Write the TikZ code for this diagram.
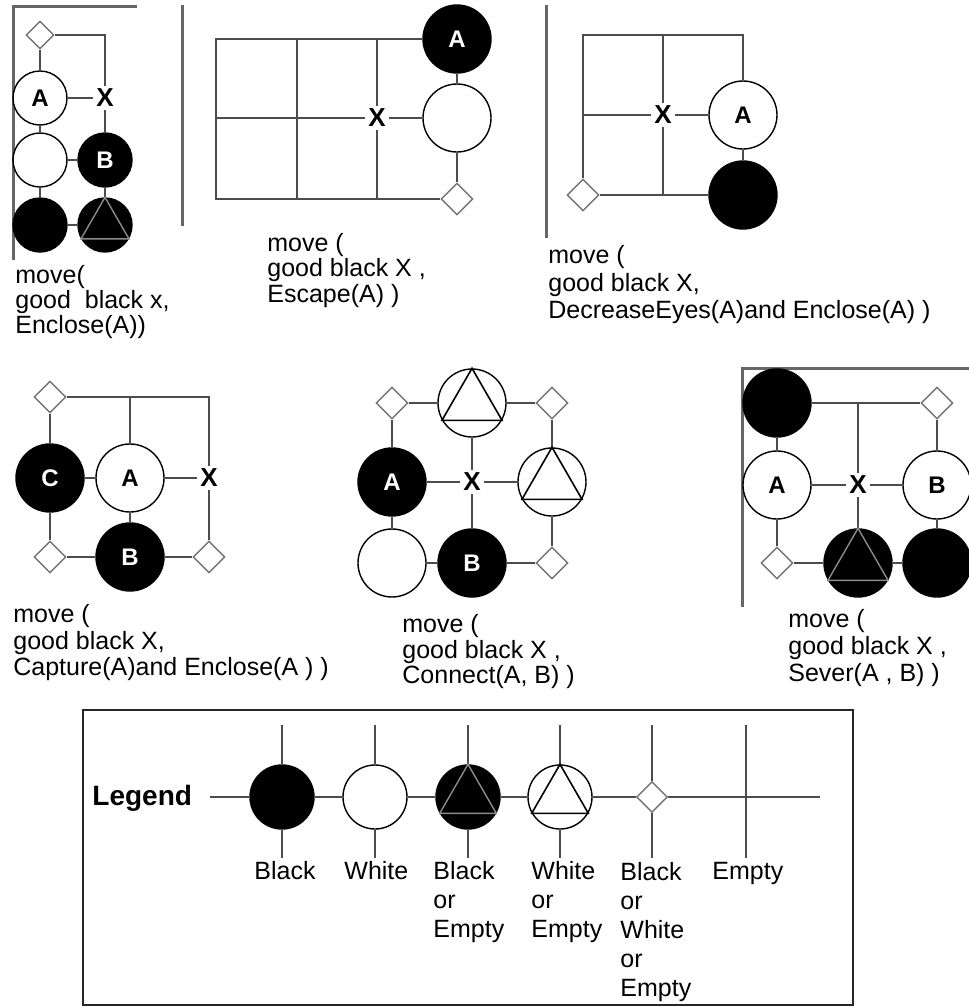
\documentclass[tikz,border=0pt]{standalone}
\usepackage{fontspec}
\setmainfont{Liberation Sans}
\usetikzlibrary{shapes.geometric}
\tikzset{
  gline/.style={draw=black!70, line width=1pt},
  panelline/.style={draw=black!60, line width=1.5pt},
  stone/.style={circle, draw=black, line width=0.7pt, inner sep=0pt, minimum size=34pt, font=\bfseries\fontsize{12}{12}\selectfont},
  blk/.style={stone, fill=black, text=white},
  wht/.style={stone, fill=white},
  p1/.style={minimum size=27pt},
  leg/.style={minimum size=32pt},
  gem/.style={diamond, draw=black!55, fill=white, line width=0.7pt, inner sep=0pt, minimum size=16pt},
  mv/.style={inner sep=1.5pt, font=\bfseries\fontsize{13}{13}\selectfont},
  capt/.style={anchor=north west, align=left, inner sep=0pt, font=\fontsize{12.5}{#1}\selectfont},
  capt/.default=13,
}
\begin{document}
\begin{tikzpicture}[x=0.5pt, y=-0.5pt]
  \useasboundingbox (0,0) rectangle (969,1007);
  % separators
  \draw[panelline] (13,260) -- (13,6) -- (137,6);
  \draw[panelline] (182,5) -- (182,226);
  \draw[panelline] (546,5) -- (546,238);
  \draw[panelline] (742,607) -- (742,368) -- (969,368);

  % Enclose
  \node[gem, minimum size=14pt] (d1) at (40,35) {};
  \coordinate (c1) at (105,35);
  \node[wht, p1] (a1) at (40,98) {A};
  \node[mv] (x1) at (105,98) {X};
  \node[wht, p1] (w1) at (40,160) {};
  \node[blk, p1] (b1) at (105,160) {B};
  \node[blk, p1] (k1) at (40,225) {};
  \node[blk, p1] (t1) at (105,225) {};
  \draw[gline] (d1) -- (c1) -- (x1);
  \draw[gline] (d1) -- (a1) -- (w1) -- (k1) -- (t1) -- (b1) -- (x1) -- (a1);
  \draw[gline] (w1) -- (b1);
  \node[capt=12.5] (m1) at (15,265) {move(\\good\ \ black x,\\Enclose(A))};

  % Escape
  \coordinate (p2a) at (216,39); \coordinate (p2b) at (216,199);
  \coordinate (p2c) at (297,39); \coordinate (p2d) at (297,199);
  \coordinate (p2e) at (377,39); \coordinate (p2f) at (377,199);
  \coordinate (p2g) at (216,118);
  \node[blk] (a2) at (457,39) {A};
  \node[wht] (w2) at (457,118) {};
  \node[gem] (d2) at (457,199) {};
  \node[mv] (x2) at (377,118) {X};
  \draw[gline] (a2) -- (p2a) -- (p2b) -- (d2);
  \draw[gline] (p2c) -- (p2d);
  \draw[gline] (p2e) -- (x2) -- (p2f);
  \draw[gline] (p2g) -- (x2) -- (w2);
  \draw[gline] (a2) -- (w2) -- (d2);
  \node[capt=10.5] (m2) at (267,233) {move (\\good black X ,\\Escape(A) )};

  % DecreaseEyes
  \coordinate (p3a) at (583,35); \coordinate (p3b) at (743,35);
  \coordinate (p3c) at (663,35); \coordinate (p3d) at (663,195);
  \coordinate (p3e) at (583,115);
  \node[wht] (a3) at (743,115) {A};
  \node[blk] (k3) at (743,195) {};
  \node[gem] (d3) at (583,195) {};
  \node[mv] (x3) at (663,115) {X};
  \draw[gline] (d3) -- (p3a) -- (p3b) -- (a3) -- (k3);
  \draw[gline] (p3c) -- (x3) -- (p3d);
  \draw[gline] (p3e) -- (x3) -- (a3);
  \draw[gline] (d3) -- (k3);
  \node[capt=13.75] (m3) at (548,245) {move (\\good black X,\\DecreaseEyes(A)and Enclose(A) )};

  % Capture
  \node[gem] (d4a) at (50,397) {};
  \node[gem] (d4b) at (50,557) {};
  \node[gem] (d4c) at (209,557) {};
  \coordinate (p4a) at (209,397); \coordinate (p4b) at (130,397);
  \node[blk] (c4) at (50,478) {C};
  \node[wht] (a4) at (130,478) {A};
  \node[mv] (x4) at (209,478) {X};
  \node[blk] (b4) at (130,557) {B};
  \draw[gline] (d4a) -- (p4a) -- (x4) -- (d4c) -- (b4) -- (d4b) -- (c4) -- (d4a);
  \draw[gline] (p4b) -- (a4) -- (b4);
  \draw[gline] (c4) -- (a4) -- (x4);
  \node[capt=13.25] (m4) at (13,604) {move (\\good black X,\\Capture(A)and Enclose(A ) )};

  % Connect
  \node[gem] (d5a) at (392,403) {};
  \node[gem] (d5b) at (552,403) {};
  \node[gem] (d5c) at (552,563) {};
  \node[wht] (t5a) at (472,403) {};
  \node[wht] (t5b) at (552,482) {};
  \node[blk] (a5) at (392,482) {A};
  \node[mv] (x5) at (472,482) {X};
  \node[wht] (w5) at (392,563) {};
  \node[blk] (b5) at (472,563) {B};
  \draw[gline] (d5a) -- (t5a) -- (d5b) -- (t5b) -- (d5c) -- (b5) -- (w5) -- (a5) -- (d5a);
  \draw[gline] (t5a) -- (x5) -- (b5);
  \draw[gline] (a5) -- (x5) -- (t5b);
  \node[capt=12.75] (m5) at (402,614) {move (\\good black X ,\\Connect(A, B) )};

  % Sever
  \node[blk] (k6a) at (777,403) {};
  \coordinate (p6a) at (858,403);
  \node[gem] (d6a) at (937,403) {};
  \node[wht] (a6) at (777,485) {A};
  \node[mv] (x6) at (858,485) {X};
  \node[wht] (b6) at (937,485) {B};
  \node[gem] (d6b) at (777,563) {};
  \node[blk] (t6) at (858,563) {};
  \node[blk] (k6b) at (937,563) {};
  \draw[gline] (k6a) -- (d6a) -- (b6) -- (k6b) -- (t6) -- (d6b) -- (a6) -- (k6a);
  \draw[gline] (p6a) -- (x6) -- (t6);
  \draw[gline] (a6) -- (x6) -- (b6);
  \node[capt=13.5] (m6) at (788,609) {move (\\good black X ,\\Sever(A , B) )};

  % legend
  \draw[line width=1pt, draw=black!85] (83,710) rectangle (853,1005);
  \node[font=\bfseries\fontsize{14}{14}\selectfont, anchor=base west, inner sep=0pt] (lg) at (92,805) {Legend};
  \coordinate (l0) at (210,797); \coordinate (l1) at (820,797);
  \coordinate (le) at (746,797);
  \node[blk, leg] (lk) at (282,797) {};
  \node[wht, leg] (lw) at (375,797) {};
  \node[blk, leg] (lkt) at (468,797) {};
  \node[wht, leg] (lwt) at (560,797) {};
  \node[gem, minimum size=15.5pt] (ld) at (652,797) {};
  \draw[gline] (l0) -- (lk) -- (lw) -- (lkt) -- (lwt) -- (ld) -- (le) -- (l1);
  \foreach \n/\x in {lk/282, lw/375, lkt/468, lwt/560, ld/652, le/746} {
    \coordinate (t\n) at (\x,725); \coordinate (b\n) at (\x,858);
    \draw[gline] (t\n) -- (\n) -- (b\n);
  }
  \node[capt=14.5] (nk) at (254,861) {Black};
  \node[capt=14.5] (nw) at (344,861) {White};
  \node[capt=14.5] (nkt) at (433,861) {Black\\or\\Empty};
  \node[capt=14.5] (nwt) at (531,861) {White\\or\\Empty};
  \node[capt=14.5] (nd) at (620,862) {Black\\or\\White\\or\\Empty};
  \node[capt=14.5] (ne) at (712,862) {Empty};

  % triangles
  \foreach \n in {t1, t6, lkt} \draw[black!45, line width=0.7pt] (\n.north) -- (\n.210) -- (\n.330) -- cycle;
  \foreach \n in {t5a, t5b, lwt} \draw[black, line width=0.8pt] (\n.north) -- (\n.210) -- (\n.330) -- cycle;
\end{tikzpicture}
\end{document}
